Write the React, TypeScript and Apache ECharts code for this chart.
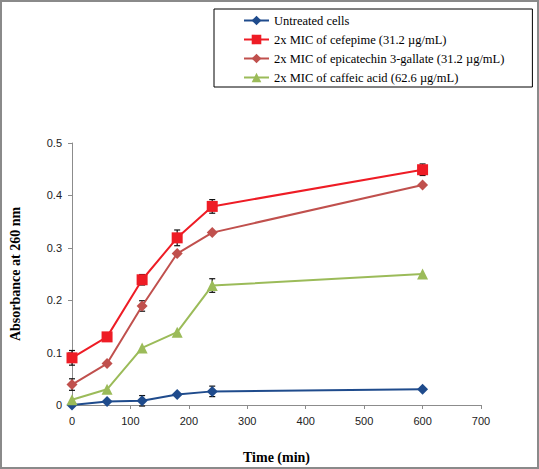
import React, { useEffect, useRef } from "react";
import * as echarts from "echarts";

const times = [0, 60, 120, 180, 240, 600];
const seriesNames = [
  "Untreated cells",
  "2x MIC of cefepime (31.2 µg/mL)",
  "2x MIC of epicatechin 3-gallate (31.2 µg/mL)",
  "2x MIC of caffeic acid (62.6 µg/mL)",
];
const untreated = [0, 0.0065, 0.008, 0.02, 0.026, 0.03];
const cefepime = [0.09, 0.13, 0.239, 0.319, 0.379, 0.449];
const epicatechin = [0.039, 0.079, 0.189, 0.289, 0.329, 0.42];
const caffeic = [0.01, 0.03, 0.109, 0.139, 0.228, 0.25];

// error bars: [time, value, +/- error]
const untreatedErr = [[120, 0.008, 0.01], [240, 0.026, 0.01]];
const cefepimeErr = [[0, 0.09, 0.014], [120, 0.239, 0.01], [180, 0.319, 0.015], [240, 0.379, 0.013], [600, 0.449, 0.011]];
const epicatechinErr = [[0, 0.039, 0.011], [120, 0.189, 0.01]];
const caffeicErr = [[240, 0.228, 0.013]];

const colors = ["#1f4b8c", "#ee1c25", "#c0504d", "#9bbb59"];
const symbols = ["diamond", "rect", "diamond", "triangle"];
const symbolSizes = [11, 11, 11, 11];
const values = [untreated, cefepime, epicatechin, caffeic];
const errs = [untreatedErr, cefepimeErr, epicatechinErr, caffeicErr];

export default function App() {
  const ref = useRef<HTMLDivElement>(null);
  useEffect(() => {
    document.body.style.margin = "0";
    const chart = echarts.init(ref.current!, null, { renderer: "svg" });
    const lineSeries = values.map((v, i) => ({
      name: seriesNames[i],
      type: "line",
      data: times.map((t, j) => [t, v[j]]),
      symbol: symbols[i],
      symbolSize: symbolSizes[i],
      lineStyle: { color: colors[i], width: 2 },
      itemStyle: { color: colors[i] },
      z: 3,
    }));
    const errSeries = errs.map((e) => ({
      type: "custom",
      data: e.map((d) => [d[0], d[1] - d[2], d[1] + d[2]]),
      z: 2,
      silent: true,
      renderItem: (params: any, api: any) => {
        const x = api.value(0);
        const lo = api.coord([x, api.value(1)]);
        const hi = api.coord([x, api.value(2)]);
        const cw = 3;
        const style = { stroke: "#111", lineWidth: 1.2 };
        return {
          type: "group",
          children: [
            { type: "line", shape: { x1: lo[0], y1: lo[1], x2: hi[0], y2: hi[1] }, style },
            { type: "line", shape: { x1: lo[0] - cw, y1: lo[1], x2: lo[0] + cw, y2: lo[1] }, style },
            { type: "line", shape: { x1: hi[0] - cw, y1: hi[1], x2: hi[0] + cw, y2: hi[1] }, style },
          ],
        };
      },
    }));
    chart.setOption({
      animation: false,
      backgroundColor: "#fff",
      grid: { left: 66, right: 58, top: 143, bottom: 61, containLabel: false },
      graphic: [
        {
          type: "rect",
          shape: { x: 1, y: 1, width: 537, height: 467 },
          style: { fill: "none", stroke: "#8a8a8a", lineWidth: 2 },
          silent: true,
        },
      ],
      legend: {
        orient: "vertical",
        left: 214,
        top: 9,
        padding: [5, 28, 3, 29],
        itemGap: 6,
        itemWidth: 25,
        itemHeight: 12,
        borderColor: "#000",
        borderWidth: 1,
        data: seriesNames,
        textStyle: { fontFamily: "Liberation Serif", fontSize: 12.5, color: "#000" },
      },
      xAxis: {
        type: "value",
        min: 0,
        max: 700,
        interval: 100,
        name: "Time (min)",
        nameLocation: "middle",
        nameGap: 45,
        nameTextStyle: { fontFamily: "Liberation Serif", fontWeight: "bold", fontSize: 14, color: "#000" },
        axisLine: { lineStyle: { color: "#8c8c8c", width: 1 } },
        axisTick: { show: true, length: 4, lineStyle: { color: "#8c8c8c" } },
        axisLabel: { fontFamily: "Liberation Sans", fontSize: 11, color: "#222", margin: 10 },
        splitLine: { show: false },
      },
      yAxis: {
        type: "value",
        min: 0,
        max: 0.5,
        interval: 0.1,
        name: "Absorbance at 260 nm",
        nameLocation: "middle",
        nameGap: 50,
        nameRotate: 90,
        nameTextStyle: { fontFamily: "Liberation Serif", fontWeight: "bold", fontSize: 14, color: "#000" },
        axisLine: { show: true, lineStyle: { color: "#8c8c8c", width: 1 } },
        axisTick: { show: true, length: 4, lineStyle: { color: "#8c8c8c" } },
        axisLabel: { fontFamily: "Liberation Sans", fontSize: 11, color: "#222", margin: 10 },
        splitLine: { show: false },
      },
      series: [...lineSeries, ...errSeries],
    });
    return () => chart.dispose();
  }, []);
  return <div ref={ref} style={{ width: 539, height: 469 }} />;
}
